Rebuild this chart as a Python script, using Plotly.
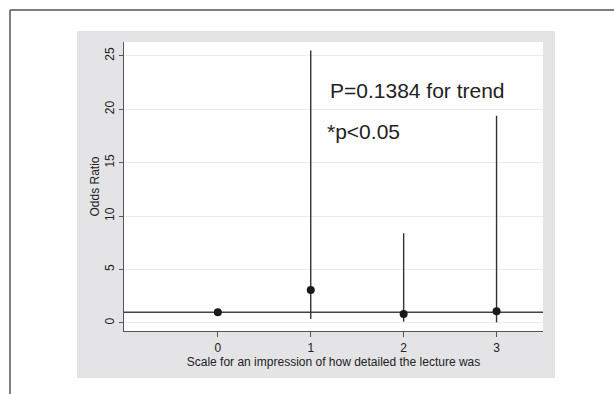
import plotly.graph_objects as go

# Data
categories = [0, 1, 2, 3]
odds_ratio = [1.0, 3.09, 0.84, 1.09]
ci_low = [1.0, 0.37, 0.12, 0.06]
ci_high = [1.0, 25.5, 8.4, 19.4]
y_ticks = [0, 5, 10, 15, 20, 25]
x_ticks = [0, 1, 2, 3]
reference_or = 1
annot_trend = "P=0.1384 for trend"
annot_sig = "*p<0.05"

err_plus = [h - o for h, o in zip(ci_high, odds_ratio)]
err_minus = [o - l for o, l in zip(odds_ratio, ci_low)]

FONT = "Liberation Sans, Arial, sans-serif"
AXIS_COL = "#555555"

fig = go.Figure()
fig.add_trace(go.Scatter(
    x=categories, y=odds_ratio, mode="markers",
    marker=dict(size=8, color="#1a1a1a"),
    error_y=dict(type="data", symmetric=False, array=err_plus, arrayminus=err_minus,
                 thickness=1.4, width=0, color="#333333"),
    showlegend=False, hoverinfo="skip",
))

W, H = 614, 394
L, R, T, B = 124, 543, 42, 331
pw, ph = R - L, B - T

def px(x):
    return (x - L) / pw

def py(y):
    return (B - y) / ph

shapes = [
    # graph region (gray)
    dict(type="rect", xref="paper", yref="paper", x0=px(77), x1=px(555), y0=py(378), y1=py(31),
         fillcolor="#e4e4e6", line=dict(width=0), layer="below"),
    # plot region (white)
    dict(type="rect", xref="paper", yref="paper", x0=0, x1=1, y0=0, y1=1,
         fillcolor="white", line=dict(width=0), layer="below"),
    # outer frame: top and left lines
    dict(type="line", xref="paper", yref="paper", x0=px(10), x1=px(614), y0=py(10), y1=py(10),
         line=dict(color="#555555", width=1.5)),
    dict(type="line", xref="paper", yref="paper", x0=px(10), x1=px(10), y0=py(10), y1=py(394),
         line=dict(color="#555555", width=1.5)),
    # reference line at OR = 1
    dict(type="line", xref="paper", yref="y", x0=0, x1=1, y0=reference_or, y1=reference_or,
         line=dict(color="#444444", width=1.5), layer="below"),
]

fig.update_layout(
    width=W, height=H,
    margin=dict(l=L, r=W - R, t=T, b=H - B, pad=0),
    paper_bgcolor="white", plot_bgcolor="white",
    font=dict(family=FONT, size=12, color="#222222"),
    shapes=shapes,
    xaxis=dict(range=[-1.01, 3.5], tickvals=x_ticks, ticktext=[str(v) for v in x_ticks],
               showgrid=False, zeroline=False, showline=True, linecolor=AXIS_COL, linewidth=1.3,
               ticks="outside", ticklen=5, tickcolor=AXIS_COL, tickwidth=1,
               tickfont=dict(size=12, color="#222222"),
               title=dict(text="Scale for an impression of how detailed the lecture was",
                          font=dict(size=12, color="#222222"), standoff=0)),
    yaxis=dict(range=[-0.75, 26.3], tickvals=y_ticks, ticktext=[str(v) for v in y_ticks],
               showgrid=True, gridcolor="#ececec", gridwidth=1.3, zeroline=False,
               showline=True, linecolor=AXIS_COL, linewidth=1.3,
               ticks="outside", ticklen=4, tickcolor=AXIS_COL, tickwidth=1, tickangle=-90,
               tickfont=dict(size=12, color="#222222"),
               title=dict(text="Odds Ratio", font=dict(size=12, color="#222222"), standoff=0)),
    annotations=[
        dict(x=1.19, y=21.8, xref="x", yref="y", text=annot_trend, showarrow=False,
             xanchor="left", yanchor="middle", font=dict(size=21, color="#222222")),
        dict(x=1.15, y=17.9, xref="x", yref="y", text=annot_sig, showarrow=False,
             xanchor="left", yanchor="middle", font=dict(size=21, color="#222222")),
    ],
)

fig.write_html("out.html")
